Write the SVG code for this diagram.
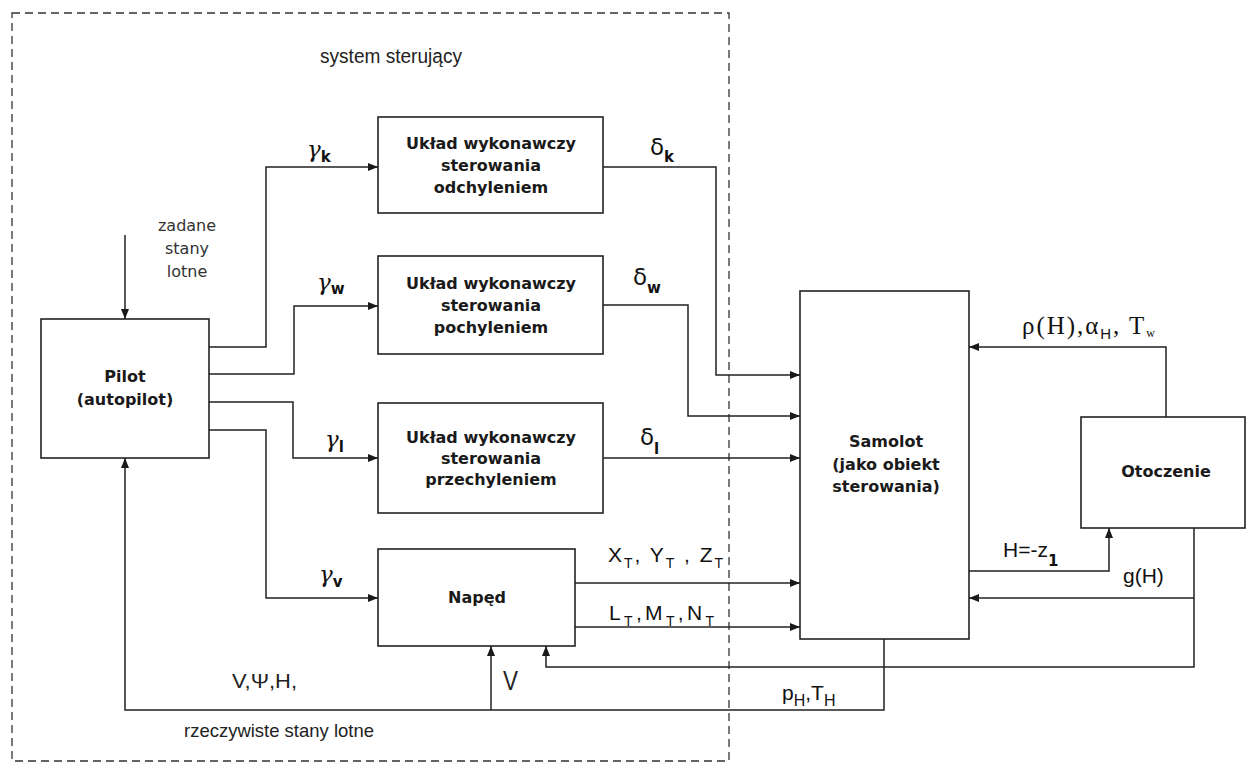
<svg xmlns="http://www.w3.org/2000/svg" width="1248" height="763" viewBox="0 0 1248 763">
<defs>
<marker id="arr" markerWidth="10" markerHeight="8" refX="10" refY="4" orient="auto" markerUnits="userSpaceOnUse">
<path d="M0,0 L10,4 L0,8 z" fill="#1a1a1a"/>
</marker>
<style>
.box{fill:#fff;stroke:#222;stroke-width:1.6}
.bt{font-family:"DejaVu Sans",Verdana,sans-serif;font-weight:bold;font-size:16px;fill:#1a1a1a;text-anchor:middle}
.c{fill:none;stroke:#222;stroke-width:1.5}
.ca{fill:none;stroke:#222;stroke-width:1.5;marker-end:url(#arr)}
.dash{fill:none;stroke:#333;stroke-width:1.3;stroke-dasharray:8 5}
.nar{font-family:"Liberation Sans",Arial,sans-serif;fill:#222}
.dv{font-family:"DejaVu Sans",sans-serif;font-size:16px;fill:#333;text-anchor:middle}
.gam{font-family:"DejaVu Serif",serif;font-style:italic;font-size:23px;fill:#111}
.del{font-family:"DejaVu Sans",sans-serif;font-size:23px;fill:#111}
.sb{font-family:"DejaVu Sans",sans-serif;font-weight:bold;font-style:normal;font-size:15px}
.ar{font-family:"Liberation Sans",Arial,sans-serif;font-size:21px;fill:#111}
.sub{font-size:14px}
.ser{font-family:"Liberation Serif","Times New Roman",serif;font-size:25px;fill:#111}
</style>
</defs>
<rect class="dash" x="12" y="13" width="717" height="748"/>
<text class="nar" x="320" y="63" font-size="20" textLength="142" lengthAdjust="spacingAndGlyphs">system sterujący</text>
<g id="zadane">
<text class="dv" x="187" y="231">zadane</text>
<text class="dv" x="187" y="254">stany</text>
<text class="dv" x="187" y="277">lotne</text>
</g>
<g id="pilot">
<rect class="box" x="41" y="319" width="168" height="139"/>
<text class="bt" x="125" y="382">Pilot</text>
<text class="bt" x="125" y="405">(autopilot)</text>
</g>
<g id="uklad-k">
<rect class="box" x="378" y="117" width="225" height="96"/>
<text class="bt" x="491" y="149">Układ wykonawczy</text>
<text class="bt" x="491" y="171">sterowania</text>
<text class="bt" x="491" y="193">odchyleniem</text>
</g>
<g id="uklad-w">
<rect class="box" x="378" y="256" width="225" height="98"/>
<text class="bt" x="491" y="289">Układ wykonawczy</text>
<text class="bt" x="491" y="311">sterowania</text>
<text class="bt" x="491" y="333">pochyleniem</text>
</g>
<g id="uklad-l">
<rect class="box" x="378" y="403" width="225" height="110"/>
<text class="bt" x="491" y="443">Układ wykonawczy</text>
<text class="bt" x="491" y="464">sterowania</text>
<text class="bt" x="491" y="485">przechyleniem</text>
</g>
<g id="naped">
<rect class="box" x="378" y="549" width="197" height="97"/>
<text class="bt" x="477" y="603">Napęd</text>
</g>
<g id="samolot">
<rect class="box" x="800" y="291" width="169" height="348"/>
<text class="bt" x="886" y="447">Samolot</text>
<text class="bt" x="886" y="470">(jako obiekt</text>
<text class="bt" x="886" y="492">sterowania)</text>
</g>
<g id="otoczenie">
<rect class="box" x="1081" y="417" width="164" height="111"/>
<text class="bt" x="1166" y="477">Otoczenie</text>
</g>
<g id="connectors">
<path class="ca" d="M125,235 V319"/>
<path class="ca" d="M209,347 H266 V167 H378"/>
<path class="ca" d="M209,374 H294 V306 H378"/>
<path class="ca" d="M209,402 H293 V458 H378"/>
<path class="ca" d="M209,430 H266 V598 H378"/>
<path class="ca" d="M603,167 H716 V375 H800"/>
<path class="ca" d="M603,305 H688 V416 H800"/>
<path class="ca" d="M603,458 H800"/>
<path class="ca" d="M575,583 H800"/>
<path class="ca" d="M575,627 H800"/>
<path class="ca" d="M1166,417 V347 H969"/>
<path class="ca" d="M969,571 H1109 V528"/>
<path class="ca" d="M1194,528 V667 H546 V646"/>
<path class="ca" d="M1194,598 H969"/>
<path class="ca" d="M884,639 V710 H125 V458"/>
<path class="ca" d="M491,710 V646"/>
</g>
<g id="labels">
<text class="gam" x="307" y="157">γ<tspan class="sb" dy="5">k</tspan></text>
<text class="gam" x="317" y="290">γ<tspan class="sb" dy="4">w</tspan></text>
<text class="gam" x="325" y="447">γ<tspan class="sb" dy="5">l</tspan></text>
<text class="gam" x="319" y="582">γ<tspan class="sb" dy="5">v</tspan></text>
<text class="del" x="650" y="155">δ<tspan class="sb" dy="7">k</tspan></text>
<text class="del" x="633" y="285">δ<tspan class="sb" dy="8">w</tspan></text>
<text class="del" x="640" y="445">δ<tspan class="sb" dy="9">l</tspan></text>
<text class="ar" x="608" y="562" textLength="115" lengthAdjust="spacing">X<tspan class="sub" dy="6">T</tspan><tspan dy="-6">, Y</tspan><tspan class="sub" dy="6">T</tspan><tspan dy="-6"> , Z</tspan><tspan class="sub" dy="6">T</tspan></text>
<text class="ar" x="609" y="620" textLength="105" lengthAdjust="spacing">L<tspan class="sub" dy="6">T</tspan><tspan dy="-6">,M</tspan><tspan class="sub" dy="6">T</tspan><tspan dy="-6">,N</tspan><tspan class="sub" dy="6">T</tspan></text>
<text class="ser" x="1022" y="334" textLength="133" lengthAdjust="spacing">ρ(H),α<tspan font-family="Liberation Sans" font-size="15" dy="5">H</tspan><tspan dy="-5">,  T</tspan><tspan font-size="12" dy="3">w</tspan></text>
<text class="ar" x="1003" y="557" font-size="24">H=-z<tspan font-family="DejaVu Sans" font-weight="bold" font-size="15" dy="9">1</tspan></text>
<text class="ar" x="1123" y="583" font-size="25">g(H)</text>
<text class="ar" x="782" y="700" font-size="25">p<tspan font-size="16" dy="6">H</tspan><tspan dy="-6">,T</tspan><tspan font-size="16" dy="6">H</tspan></text>
<text class="nar" x="232" y="688" font-size="21" textLength="65" lengthAdjust="spacingAndGlyphs">V,Ψ,H,</text>
<text class="nar" x="503" y="690" font-size="27" textLength="15" lengthAdjust="spacingAndGlyphs">V</text>
<text class="nar" x="184" y="737" font-size="19" textLength="190" lengthAdjust="spacingAndGlyphs">rzeczywiste stany lotne</text>
</g>
</svg>
